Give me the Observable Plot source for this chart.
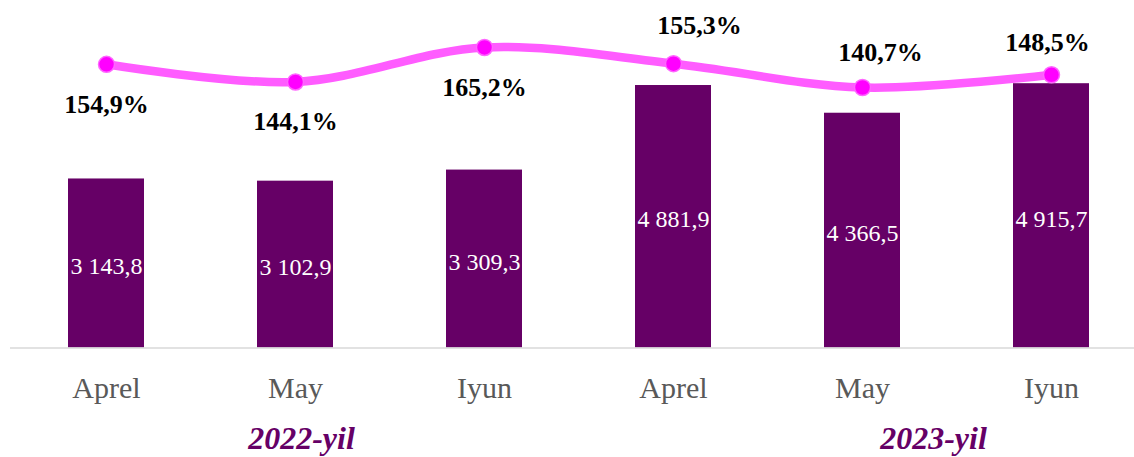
<!DOCTYPE html>
<html>
<head>
<meta charset="utf-8">
<script src="https://cdn.jsdelivr.net/npm/d3@7"></script>
<script src="https://cdn.jsdelivr.net/npm/@observablehq/plot@0.6"></script>
<style>
  html, body { margin: 0; padding: 0; background: #fff; }
  #chart { position: relative; width: 1134px; height: 457px; overflow: hidden; }
  #chart svg { position: absolute; left: 0; top: 0; }
</style>
</head>
<body>
<div id="chart"></div>
<script>
const months = ["Aprel", "May", "Iyun", "Aprel", "May", "Iyun"];
const years = ["2022-yil", "2022-yil", "2022-yil", "2023-yil", "2023-yil", "2023-yil"];
const values = [3143.8, 3102.9, 3309.3, 4881.9, 4366.5, 4915.7];
const growth = [154.9, 144.1, 165.2, 155.3, 140.7, 148.5];
const yearLabels = ["2022-yil", "2023-yil"];

const locale = d3.formatLocale({decimal: ",", thousands: " ", grouping: [3], currency: ["", ""]});
const fmtVal = locale.format(",.1f");
const fmtPct = d => locale.format(".1f")(d) + "%";

const rows = months.map((m, i) => ({key: years[i] + " " + m, month: m, year: years[i], value: values[i], growth: growth[i]}));
const keys = rows.map(d => d.key);

const W = 1134, H = 457;
const font = "'Liberation Serif', 'Times New Roman', serif";
const xScale = {type: "band", domain: keys, range: [48.1, 1109], paddingInner: 0.599, paddingOuter: 0.1, align: 0.5};

const bars = Plot.plot({
  width: W, height: H,
  marginLeft: 10, marginRight: 0, marginTop: 0, marginBottom: H - 347.5,
  style: {fontFamily: font, background: "transparent", overflow: "visible"},
  x: {...xScale, label: null},
  y: {domain: [0, 6000], range: [347.5, 24.9], axis: null},
  marks: [
    Plot.barY(rows, {x: "key", y: "value", fill: "#660066"}),
    Plot.ruleY([0], {stroke: "#d9d9d9", strokeWidth: 1.5}),
    Plot.text(rows, {x: "key", y: d => d.value / 2, text: d => fmtVal(d.value), fill: "white", fontSize: 24, dy: 3}),
    Plot.axisX({tickSize: 0, tickPadding: 29, fontSize: 30, color: "#595959", tickFormat: d => d.split(" ")[1], label: null}),
    Plot.text([yearLabels[0]], {x: () => keys[1], frameAnchor: "bottom", lineAnchor: "bottom", dy: 101, dx: 6, text: d => d, fill: "#660066", fontSize: 32, fontWeight: "bold", fontStyle: "italic"}),
    Plot.text([yearLabels[1]], {x: () => keys[4], frameAnchor: "bottom", lineAnchor: "bottom", dy: 101, dx: 71, text: d => d, fill: "#660066", fontSize: 32, fontWeight: "bold", fontStyle: "italic"})
  ]
});

const labelDx = [0, 0, 0, 26, 18, -4];
const labelDy = [40, 40, 40, -38, -35, -32];

const line = Plot.plot({
  width: W, height: H,
  marginLeft: 10, marginRight: 0, marginTop: 0, marginBottom: H - 347.5,
  style: {fontFamily: font, background: "transparent", overflow: "visible"},
  x: {...xScale, axis: null},
  y: {domain: [100, 200], range: [153.45, -9.82], axis: null},
  marks: [
    Plot.line(rows, {x: "key", y: "growth", stroke: "#ff5cff", strokeWidth: 8.5, curve: "catmull-rom"}),
    Plot.dot(rows, {x: "key", y: "growth", r: 8, fill: "#ff00ff", stroke: "#ff66ff", strokeWidth: 1.5}),
    ...rows.map((d, i) => Plot.text([d], {x: "key", y: "growth", text: r => fmtPct(r.growth), dx: labelDx[i], dy: labelDy[i], fontSize: 26, fontWeight: "bold", fill: "#000"}))
  ]
});

const el = document.getElementById("chart");
el.appendChild(bars);
el.appendChild(line);
</script>
</body>
</html>
